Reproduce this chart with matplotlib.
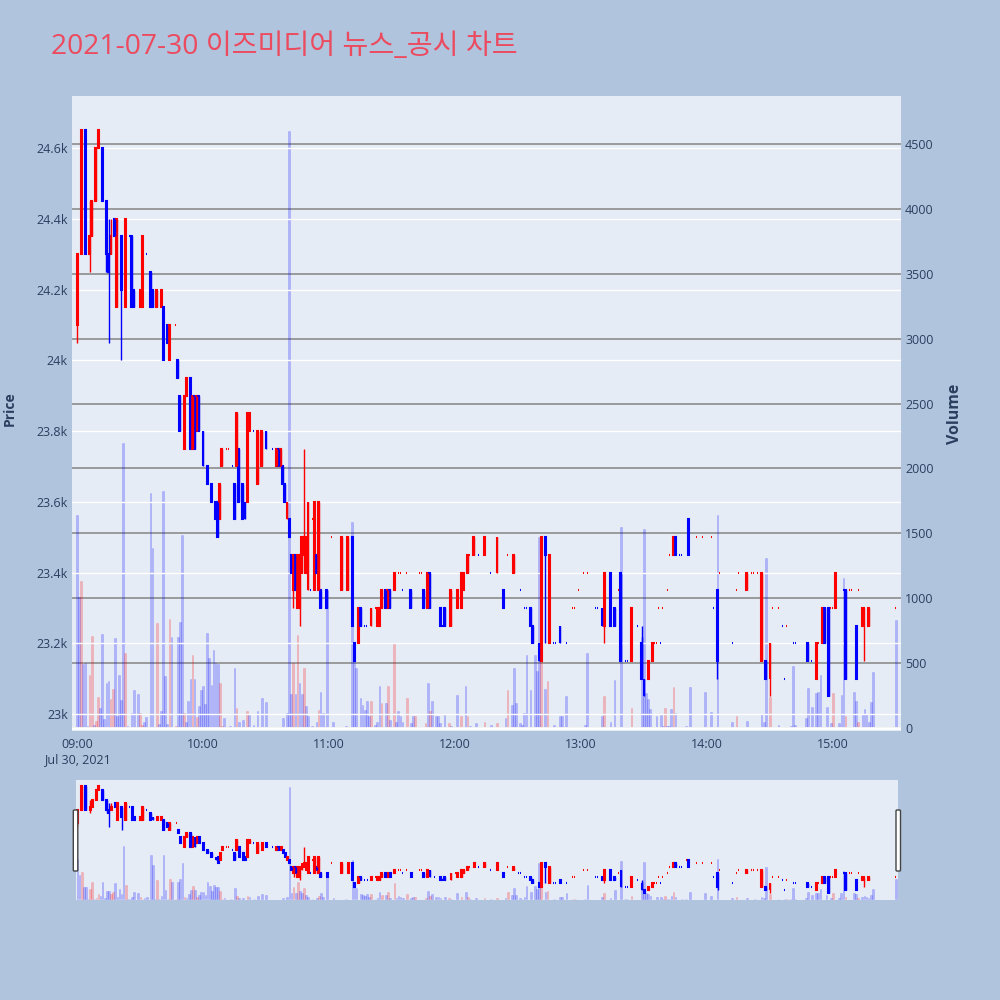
"""
2021-07-30 이즈미디어 1분봉 캔들 + 거래량 차트 (plotly 스타일 재현)
"""

import matplotlib
matplotlib.use("Agg")
import matplotlib.pyplot as plt
import matplotlib.ticker as mticker
from matplotlib.patches import FancyBboxPatch

# ── 스타일 ────────────────────────────────────────────────────────────────────
BG = "#B0C4DE"
PLOT_BG = "#E5ECF6"
TXT = "#2A3F5F"
UP = "#FF0000"
DOWN = "#0000FF"

plt.rcParams.update({
    "font.family": ["Open Sans", "Noto Sans CJK KR", "DejaVu Sans"],
    "font.size": 9,
    "axes.unicode_minus": False,
})

TITLE = "2021-07-30 이즈미디어 뉴스_공시 차트"

# ── 데이터 (09:00 기준 분) ──────────────────────────────────────────────────────
minutes = [
    0, 2, 4, 6, 7, 9, 10, 12, 14, 15,
    16, 18, 19, 21, 23, 25, 26, 27, 30, 31,
    33, 35, 36, 38, 40, 41, 43, 44, 47, 48,
    49, 51, 52, 54, 55, 56, 57, 58, 60, 62,
    64, 66, 67, 68, 69, 71, 72, 74, 75, 76,
    77, 79, 80, 81, 82, 84, 86, 88, 90, 93,
    95, 96, 97, 98, 99, 100, 101, 102, 103, 104,
    105, 106, 107, 108, 109, 110, 111, 112, 113, 114,
    115, 116, 119, 121, 126, 129, 131, 132, 134, 135,
    137, 138, 140, 142, 143, 144, 145, 147, 148, 149,
    151, 153, 154, 155, 157, 159, 163, 164, 165, 167,
    168, 170, 173, 174, 175, 178, 180, 181, 183, 184,
    186, 187, 189, 191, 194, 197, 200, 203, 205, 208,
    210, 211, 213, 214, 216, 217, 220, 221, 223, 225,
    227, 228, 230, 233, 236, 237, 239, 241, 243, 247,
    248, 250, 251, 254, 256, 258, 259, 261, 262, 264,
    267, 269, 270, 272, 274, 275, 276, 277, 278, 279,
    281, 282, 284, 285, 287, 288, 290, 291, 295, 298,
    302, 303, 305, 306, 310, 312, 314, 315, 319, 321,
    322, 324, 326, 328, 330, 331, 334, 336, 337, 338,
    341, 342, 348, 350, 352, 353, 355, 356, 358, 359,
    360, 361, 365, 366, 368, 369, 371, 372, 374, 375,
    377, 390,
]

opens = [
    24100, 24300, 24650, 24300, 24350, 24450, 24600, 24600, 24450, 24300,
    24300, 24400, 24150, 24350, 24150, 24350, 24350, 24200, 24150, 24150,
    24300, 24250, 24200, 24150, 24150, 24150, 24100, 24000, 24100, 24000,
    23900, 23750, 23900, 23950, 23750, 23900, 23800, 23900, 23800, 23700,
    23650, 23600, 23600, 23550, 23700, 23750, 23750, 23700, 23650, 23700,
    23750, 23650, 23600, 23600, 23800, 23800, 23650, 23700, 23800, 23750,
    23700, 23750, 23700, 23700, 23650, 23550, 23550, 23450, 23350, 23450,
    23300, 23300, 23400, 23450, 23400, 23350, 23350, 23550, 23350, 23450,
    23350, 23350, 23350, 23500, 23350, 23350, 23500, 23200, 23200, 23300,
    23250, 23250, 23250, 23300, 23250, 23250, 23300, 23350, 23300, 23350,
    23350, 23400, 23400, 23350, 23400, 23350, 23400, 23400, 23350, 23300,
    23400, 23300, 23300, 23250, 23300, 23250, 23350, 23300, 23300, 23350,
    23400, 23450, 23450, 23450, 23450, 23400, 23400, 23350, 23450, 23400,
    23350, 23350, 23300, 23300, 23300, 23250, 23200, 23150, 23500, 23200,
    23200, 23200, 23250, 23200, 23300, 23300, 23350, 23400, 23400, 23300,
    23300, 23300, 23250, 23400, 23300, 23350, 23400, 23150, 23150, 23150,
    23250, 23200, 23100, 23100, 23150, 23200, 23200, 23300, 23200, 23300,
    23350, 23450, 23450, 23500, 23450, 23450, 23550, 23550, 23500, 23500,
    23500, 23300, 23350, 23400, 23400, 23200, 23350, 23400, 23350, 23400,
    23400, 23400, 23150, 23150, 23100, 23300, 23300, 23250, 23100, 23250,
    23200, 23200, 23200, 23150, 23100, 23200, 23200, 23300, 23300, 23300,
    23300, 23300, 23350, 23350, 23350, 23350, 23250, 23350, 23250, 23300,
    23250, 23300,
]

highs = [
    24300, 24650, 24650, 24450, 24450, 24600, 24650, 24600, 24450, 24400,
    24400, 24400, 24400, 24350, 24400, 24350, 24350, 24200, 24200, 24350,
    24300, 24250, 24200, 24200, 24200, 24150, 24100, 24100, 24100, 24000,
    23900, 23900, 23950, 23950, 23900, 23900, 23900, 23900, 23800, 23700,
    23650, 23600, 23600, 23650, 23750, 23750, 23750, 23700, 23650, 23850,
    23750, 23650, 23600, 23850, 23850, 23800, 23800, 23800, 23800, 23750,
    23750, 23750, 23750, 23700, 23650, 23600, 23550, 23450, 23450, 23450,
    23450, 23450, 23500, 23750, 23500, 23600, 23350, 23550, 23600, 23450,
    23600, 23350, 23350, 23500, 23500, 23500, 23500, 23200, 23300, 23300,
    23250, 23250, 23300, 23300, 23300, 23300, 23350, 23350, 23350, 23350,
    23400, 23400, 23400, 23350, 23400, 23350, 23400, 23400, 23350, 23400,
    23400, 23300, 23300, 23250, 23300, 23350, 23350, 23350, 23400, 23400,
    23450, 23450, 23500, 23450, 23500, 23400, 23500, 23350, 23450, 23450,
    23350, 23350, 23300, 23300, 23300, 23250, 23200, 23500, 23500, 23450,
    23200, 23200, 23250, 23200, 23300, 23300, 23350, 23400, 23400, 23300,
    23300, 23300, 23400, 23400, 23300, 23350, 23400, 23150, 23150, 23300,
    23250, 23250, 23100, 23150, 23200, 23200, 23200, 23300, 23200, 23300,
    23350, 23450, 23500, 23500, 23450, 23450, 23550, 23550, 23500, 23500,
    23500, 23300, 23350, 23400, 23400, 23200, 23350, 23400, 23400, 23400,
    23400, 23400, 23400, 23150, 23200, 23300, 23300, 23250, 23100, 23250,
    23200, 23200, 23200, 23150, 23200, 23200, 23300, 23300, 23300, 23300,
    23300, 23400, 23350, 23350, 23350, 23350, 23250, 23350, 23300, 23300,
    23300, 23300,
]

lows = [
    24050, 24300, 24300, 24250, 24350, 24450, 24600, 24450, 24250, 24050,
    24300, 24350, 24150, 24000, 24150, 24350, 24150, 24150, 24150, 24150,
    24300, 24150, 24150, 24150, 24150, 24000, 24050, 24000, 24100, 23950,
    23800, 23750, 23900, 23750, 23750, 23750, 23800, 23800, 23700, 23650,
    23600, 23550, 23500, 23550, 23700, 23750, 23750, 23700, 23550, 23700,
    23600, 23550, 23550, 23600, 23800, 23800, 23650, 23700, 23750, 23750,
    23700, 23700, 23700, 23650, 23600, 23550, 23500, 23400, 23300, 23350,
    23300, 23250, 23400, 23450, 23400, 23350, 23350, 23550, 23350, 23400,
    23350, 23300, 23300, 23500, 23350, 23350, 23250, 23150, 23200, 23250,
    23250, 23250, 23250, 23300, 23250, 23250, 23300, 23300, 23300, 23300,
    23350, 23400, 23400, 23350, 23400, 23300, 23400, 23400, 23300, 23300,
    23300, 23300, 23250, 23250, 23250, 23250, 23350, 23300, 23300, 23350,
    23400, 23450, 23450, 23450, 23450, 23400, 23400, 23300, 23450, 23400,
    23350, 23350, 23300, 23300, 23250, 23200, 23150, 23150, 23200, 23200,
    23200, 23200, 23200, 23200, 23300, 23300, 23350, 23400, 23400, 23300,
    23300, 23250, 23200, 23250, 23250, 23350, 23150, 23150, 23150, 23150,
    23250, 23100, 23050, 23100, 23150, 23200, 23200, 23300, 23200, 23300,
    23350, 23450, 23450, 23450, 23450, 23450, 23550, 23450, 23500, 23500,
    23500, 23300, 23100, 23400, 23400, 23200, 23350, 23400, 23350, 23400,
    23400, 23400, 23150, 23100, 23050, 23300, 23300, 23250, 23100, 23250,
    23200, 23200, 23150, 23150, 23100, 23200, 23200, 23200, 23050, 23300,
    23300, 23300, 23350, 23100, 23350, 23350, 23100, 23350, 23250, 23150,
    23250, 23300,
]

closes = [
    24300, 24650, 24300, 24350, 24450, 24600, 24650, 24450, 24300, 24250,
    24350, 24350, 24400, 24200, 24400, 24350, 24150, 24150, 24200, 24350,
    24300, 24150, 24150, 24200, 24200, 24000, 24050, 24100, 24100, 23950,
    23800, 23900, 23950, 23750, 23900, 23750, 23900, 23800, 23700, 23650,
    23600, 23550, 23500, 23650, 23750, 23750, 23750, 23700, 23550, 23850,
    23600, 23550, 23550, 23850, 23850, 23800, 23800, 23800, 23750, 23750,
    23750, 23700, 23750, 23650, 23600, 23600, 23500, 23400, 23450, 23350,
    23450, 23450, 23500, 23500, 23500, 23600, 23350, 23550, 23600, 23400,
    23600, 23300, 23300, 23500, 23500, 23500, 23250, 23150, 23300, 23250,
    23250, 23250, 23300, 23300, 23300, 23300, 23350, 23300, 23350, 23300,
    23400, 23400, 23400, 23350, 23400, 23300, 23400, 23400, 23300, 23400,
    23300, 23300, 23250, 23250, 23250, 23350, 23350, 23350, 23400, 23400,
    23450, 23450, 23500, 23450, 23500, 23400, 23500, 23300, 23450, 23450,
    23350, 23350, 23300, 23300, 23250, 23200, 23150, 23500, 23450, 23450,
    23200, 23200, 23200, 23200, 23300, 23300, 23350, 23400, 23400, 23300,
    23300, 23250, 23400, 23250, 23250, 23350, 23150, 23150, 23150, 23300,
    23250, 23100, 23050, 23150, 23200, 23200, 23200, 23300, 23200, 23300,
    23350, 23450, 23500, 23450, 23450, 23450, 23550, 23450, 23500, 23500,
    23500, 23300, 23150, 23400, 23400, 23200, 23350, 23400, 23400, 23400,
    23400, 23400, 23400, 23100, 23200, 23300, 23300, 23250, 23100, 23250,
    23200, 23200, 23150, 23150, 23200, 23200, 23300, 23200, 23050, 23300,
    23300, 23400, 23350, 23100, 23350, 23350, 23100, 23350, 23300, 23300,
    23300, 23300,
]

# 거래량 (분, 수량, 1=상승색)
vol_minutes = [
    0, 1, 2, 3, 4, 5, 6, 7, 8, 9,
    10, 11, 12, 13, 14, 15, 16, 17, 18, 19,
    20, 21, 22, 23, 24, 25, 26, 27, 29, 30,
    31, 32, 33, 35, 36, 37, 38, 39, 40, 41,
    42, 43, 44, 45, 47, 48, 49, 50, 51, 52,
    53, 54, 55, 56, 57, 58, 59, 60, 61, 62,
    63, 64, 65, 66, 67, 68, 69, 70, 73, 75,
    76, 77, 79, 81, 82, 84, 86, 88, 90, 98,
    100, 101, 102, 103, 104, 105, 106, 107, 108, 109,
    110, 112, 114, 115, 116, 117, 119, 122, 128, 131,
    132, 133, 135, 136, 137, 138, 139, 140, 142, 143,
    144, 145, 147, 148, 149, 151, 152, 153, 154, 155,
    157, 159, 160, 161, 166, 167, 168, 169, 171, 172,
    173, 175, 177, 178, 181, 183, 185, 186, 187, 190,
    194, 197, 200, 204, 205, 207, 208, 209, 211, 212,
    213, 214, 216, 218, 219, 220, 221, 223, 224, 227,
    230, 231, 233, 236, 237, 242, 243, 250, 251, 254,
    256, 259, 261, 262, 264, 269, 270, 271, 272, 273,
    276, 278, 279, 280, 281, 282, 283, 284, 285, 288,
    290, 292, 299, 302, 305, 312, 314, 319, 323, 326,
    327, 328, 330, 334, 337, 338, 340, 341, 342, 347,
    348, 350, 352, 353, 354, 357, 359, 360, 363, 364,
    365, 366, 370, 371, 372, 374, 375, 376, 377, 378,
    379, 390,
]

volumes = [
    1640, 1010, 1135, 490, 500, 15, 410, 710, 25, 55,
    240, 155, 725, 70, 345, 360, 220, 300, 690, 95,
    410, 215, 2196, 580, 15, 10, 115, 295, 265, 115,
    25, 45, 85, 1810, 1385, 5, 810, 30, 130, 1826,
    400, 30, 840, 705, 15, 705, 820, 1487, 115, 50,
    205, 375, 565, 375, 85, 170, 295, 320, 185, 730,
    540, 335, 600, 500, 495, 350, 15, 75, 15, 460,
    155, 45, 60, 130, 100, 25, 130, 230, 200, 75,
    115, 4600, 260, 500, 260, 715, 350, 260, 460, 170,
    90, 15, 50, 140, 280, 115, 1060, 50, 15, 1590,
    625, 460, 230, 180, 140, 205, 90, 205, 25, 50,
    320, 190, 190, 320, 65, 655, 50, 130, 90, 50,
    230, 40, 90, 90, 40, 345, 130, 205, 90, 90,
    40, 100, 40, 15, 255, 90, 320, 90, 15, 40,
    50, 25, 40, 75, 295, 175, 460, 190, 40, 25,
    115, 560, 295, 560, 440, 1470, 520, 300, 360, 25,
    95, 90, 250, 8, 8, 25, 575, 95, 245, 50,
    370, 1550, 5, 5, 155, 700, 1530, 270, 220, 145,
    95, 100, 13, 155, 18, 13, 145, 315, 115, 8,
    13, 315, 275, 125, 1640, 45, 90, 55, 8, 110,
    45, 1310, 240, 25, 8, 8, 18, 480, 25, 75,
    310, 165, 270, 275, 410, 165, 40, 270, 40, 255,
    1155, 95, 280, 210, 50, 110, 150, 110, 50, 200,
    430, 830,
]

vol_up = [
    0, 0, 1, 0, 0, 0, 1, 1, 0, 1,
    1, 0, 0, 0, 0, 0, 1, 1, 0, 0,
    0, 0, 0, 1, 0, 0, 0, 0, 0, 1,
    1, 0, 0, 0, 0, 0, 1, 0, 0, 0,
    0, 0, 1, 0, 1, 0, 0, 0, 1, 0,
    0, 0, 1, 0, 1, 0, 0, 0, 0, 0,
    0, 0, 0, 0, 0, 1, 1, 0, 0, 0,
    1, 0, 0, 1, 0, 0, 0, 0, 0, 0,
    0, 0, 0, 1, 0, 1, 0, 0, 1, 0,
    0, 0, 0, 1, 0, 0, 0, 0, 0, 0,
    0, 0, 0, 0, 0, 0, 0, 1, 0, 0,
    0, 1, 0, 1, 0, 1, 0, 0, 0, 0,
    1, 0, 0, 1, 1, 0, 1, 0, 0, 0,
    0, 0, 1, 0, 0, 1, 0, 1, 0, 0,
    1, 0, 1, 0, 1, 0, 0, 0, 0, 0,
    0, 0, 0, 0, 0, 0, 1, 0, 1, 0,
    0, 0, 0, 1, 1, 0, 0, 0, 1, 0,
    0, 0, 0, 0, 1, 0, 0, 0, 0, 0,
    0, 0, 0, 1, 0, 0, 0, 1, 0, 0,
    0, 0, 0, 0, 0, 0, 1, 0, 0, 0,
    0, 0, 1, 0, 0, 1, 0, 0, 0, 0,
    0, 0, 0, 0, 0, 0, 0, 1, 0, 0,
    0, 1, 0, 0, 1, 0, 0, 0, 0, 0,
    0, 0,
]

tick_minutes = [0, 60, 120, 180, 240, 300, 360]
tick_labels = ["09:00\nJul 30, 2021", "10:00", "11:00", "12:00", "13:00", "14:00", "15:00"]

assert len(minutes) == len(opens) == len(highs) == len(lows) == len(closes)
assert len(vol_minutes) == len(volumes) == len(vol_up)


# ── 캔들 방향 (plotly 규칙: 시가=종가면 직전 종가와 비교) ─────────────────────────
def candle_dirs(o, c):
    dirs, prev_c, prev_up = [], None, True
    for oi, ci in zip(o, c):
        if ci > oi:
            up = True
        elif ci < oi:
            up = False
        elif prev_c is None or ci == prev_c:
            up = prev_up
        else:
            up = ci > prev_c
        dirs.append(up)
        prev_up, prev_c = up, ci
    return dirs


up_flags = candle_dirs(opens, closes)
c_cols = [UP if u else DOWN for u in up_flags]
bottoms = [min(o, c) for o, c in zip(opens, closes)]
heights = [abs(c - o) for o, c in zip(opens, closes)]
v_face = [(1, 0, 0, 0.24) if u else (0, 0, 1, 0.24) for u in vol_up]
v_edge = [(1, 0, 0, 0.22) if u else (0, 0, 1, 0.22) for u in vol_up]

P_LIM = (22952, 24747)
V_LIM = (-23, 4870)


def draw_panel(ax_v, ax_p):
    ax_v.bar(vol_minutes, volumes, width=0.8, color=v_face, edgecolor=v_edge, linewidth=0.4)
    ax_p.vlines(minutes, lows, highs, colors=c_cols, linewidth=1.0)
    ax_p.bar(minutes, heights, bottom=bottoms, width=0.45, color=c_cols,
             edgecolor=c_cols, linewidth=1.5)
    ax_v.set_ylim(*V_LIM)
    ax_p.set_ylim(*P_LIM)
    for a in (ax_v, ax_p):
        for s in a.spines.values():
            s.set_visible(False)


# ── 그림 ──────────────────────────────────────────────────────────────────────
fig = plt.figure(figsize=(10, 10), dpi=100, facecolor=BG)

ax_vol = fig.add_axes([0.072, 0.269, 0.829, 0.635])
ax_vol.set_facecolor(PLOT_BG)
ax_price = ax_vol.twinx()
draw_panel(ax_vol, ax_price)
ax_vol.set_xlim(-2.4, 392.4)

# 거래량 축 (오른쪽)
ax_vol.set_yticks(range(0, 4501, 500))
ax_vol.yaxis.tick_right()
ax_vol.yaxis.set_label_position("right")
ax_vol.grid(axis="y", color="#8C8C8C", linewidth=1.2)
ax_vol.axhline(0, color="white", linewidth=2)
ax_vol.set_axisbelow(True)
ax_vol.tick_params(axis="y", length=0, pad=3, labelsize=9, labelcolor=TXT)
ax_vol.set_ylabel("Volume", fontsize=11.4, fontweight="bold", color=TXT)
ax_vol.yaxis.set_label_coords(1.0553, 0.5)

# 가격 축 (왼쪽)
ax_price.set_yticks(range(23000, 24601, 200))
ax_price.yaxis.set_major_formatter(mticker.FuncFormatter(lambda v, _: f"{v / 1000:g}k"))
ax_price.yaxis.tick_left()
ax_price.yaxis.set_label_position("left")
ax_price.grid(axis="y", color="white", linewidth=1)
ax_price.set_axisbelow(True)
ax_price.tick_params(axis="y", length=0, pad=3, labelsize=9, labelcolor=TXT)
ax_price.set_ylabel("Price", fontsize=10, fontweight="bold", color=TXT)
ax_price.yaxis.set_label_coords(-0.0665, 0.507)

# 시간 축
ax_vol.set_xticks(tick_minutes)
ax_vol.set_xticklabels(tick_labels, linespacing=1.25)
ax_vol.tick_params(axis="x", length=0, pad=5, labelsize=9, labelcolor=TXT)
ax_price.tick_params(axis="x", length=0)

# ── 레인지 슬라이더 ────────────────────────────────────────────────────────────
ax_sv = fig.add_axes([0.076, 0.100, 0.822, 0.120])
ax_sv.set_facecolor(PLOT_BG)
ax_sp = ax_sv.twinx()
draw_panel(ax_sv, ax_sp)
ax_sv.set_xlim(-0.7, 391)
for a in (ax_sv, ax_sp):
    a.set_xticks([])
    a.set_yticks([])

for hx in (0.0733, 0.896):
    fig.patches.append(FancyBboxPatch((hx, 0.129), 0.0045, 0.061,
                                      boxstyle="round,pad=0,rounding_size=0.001",
                                      transform=fig.transFigure, facecolor="white",
                                      edgecolor="#444444", linewidth=1.0, zorder=5))

# ── 제목 ──────────────────────────────────────────────────────────────────────
fig.text(0.051, 0.946, TITLE, fontsize=20.3, color="#EC4B5F", ha="left", va="baseline",
         family=["Open Sans", "Noto Sans CJK KR", "DejaVu Sans"])

fig.savefig("out.png", dpi=100, facecolor=BG)
plt.close("all")
